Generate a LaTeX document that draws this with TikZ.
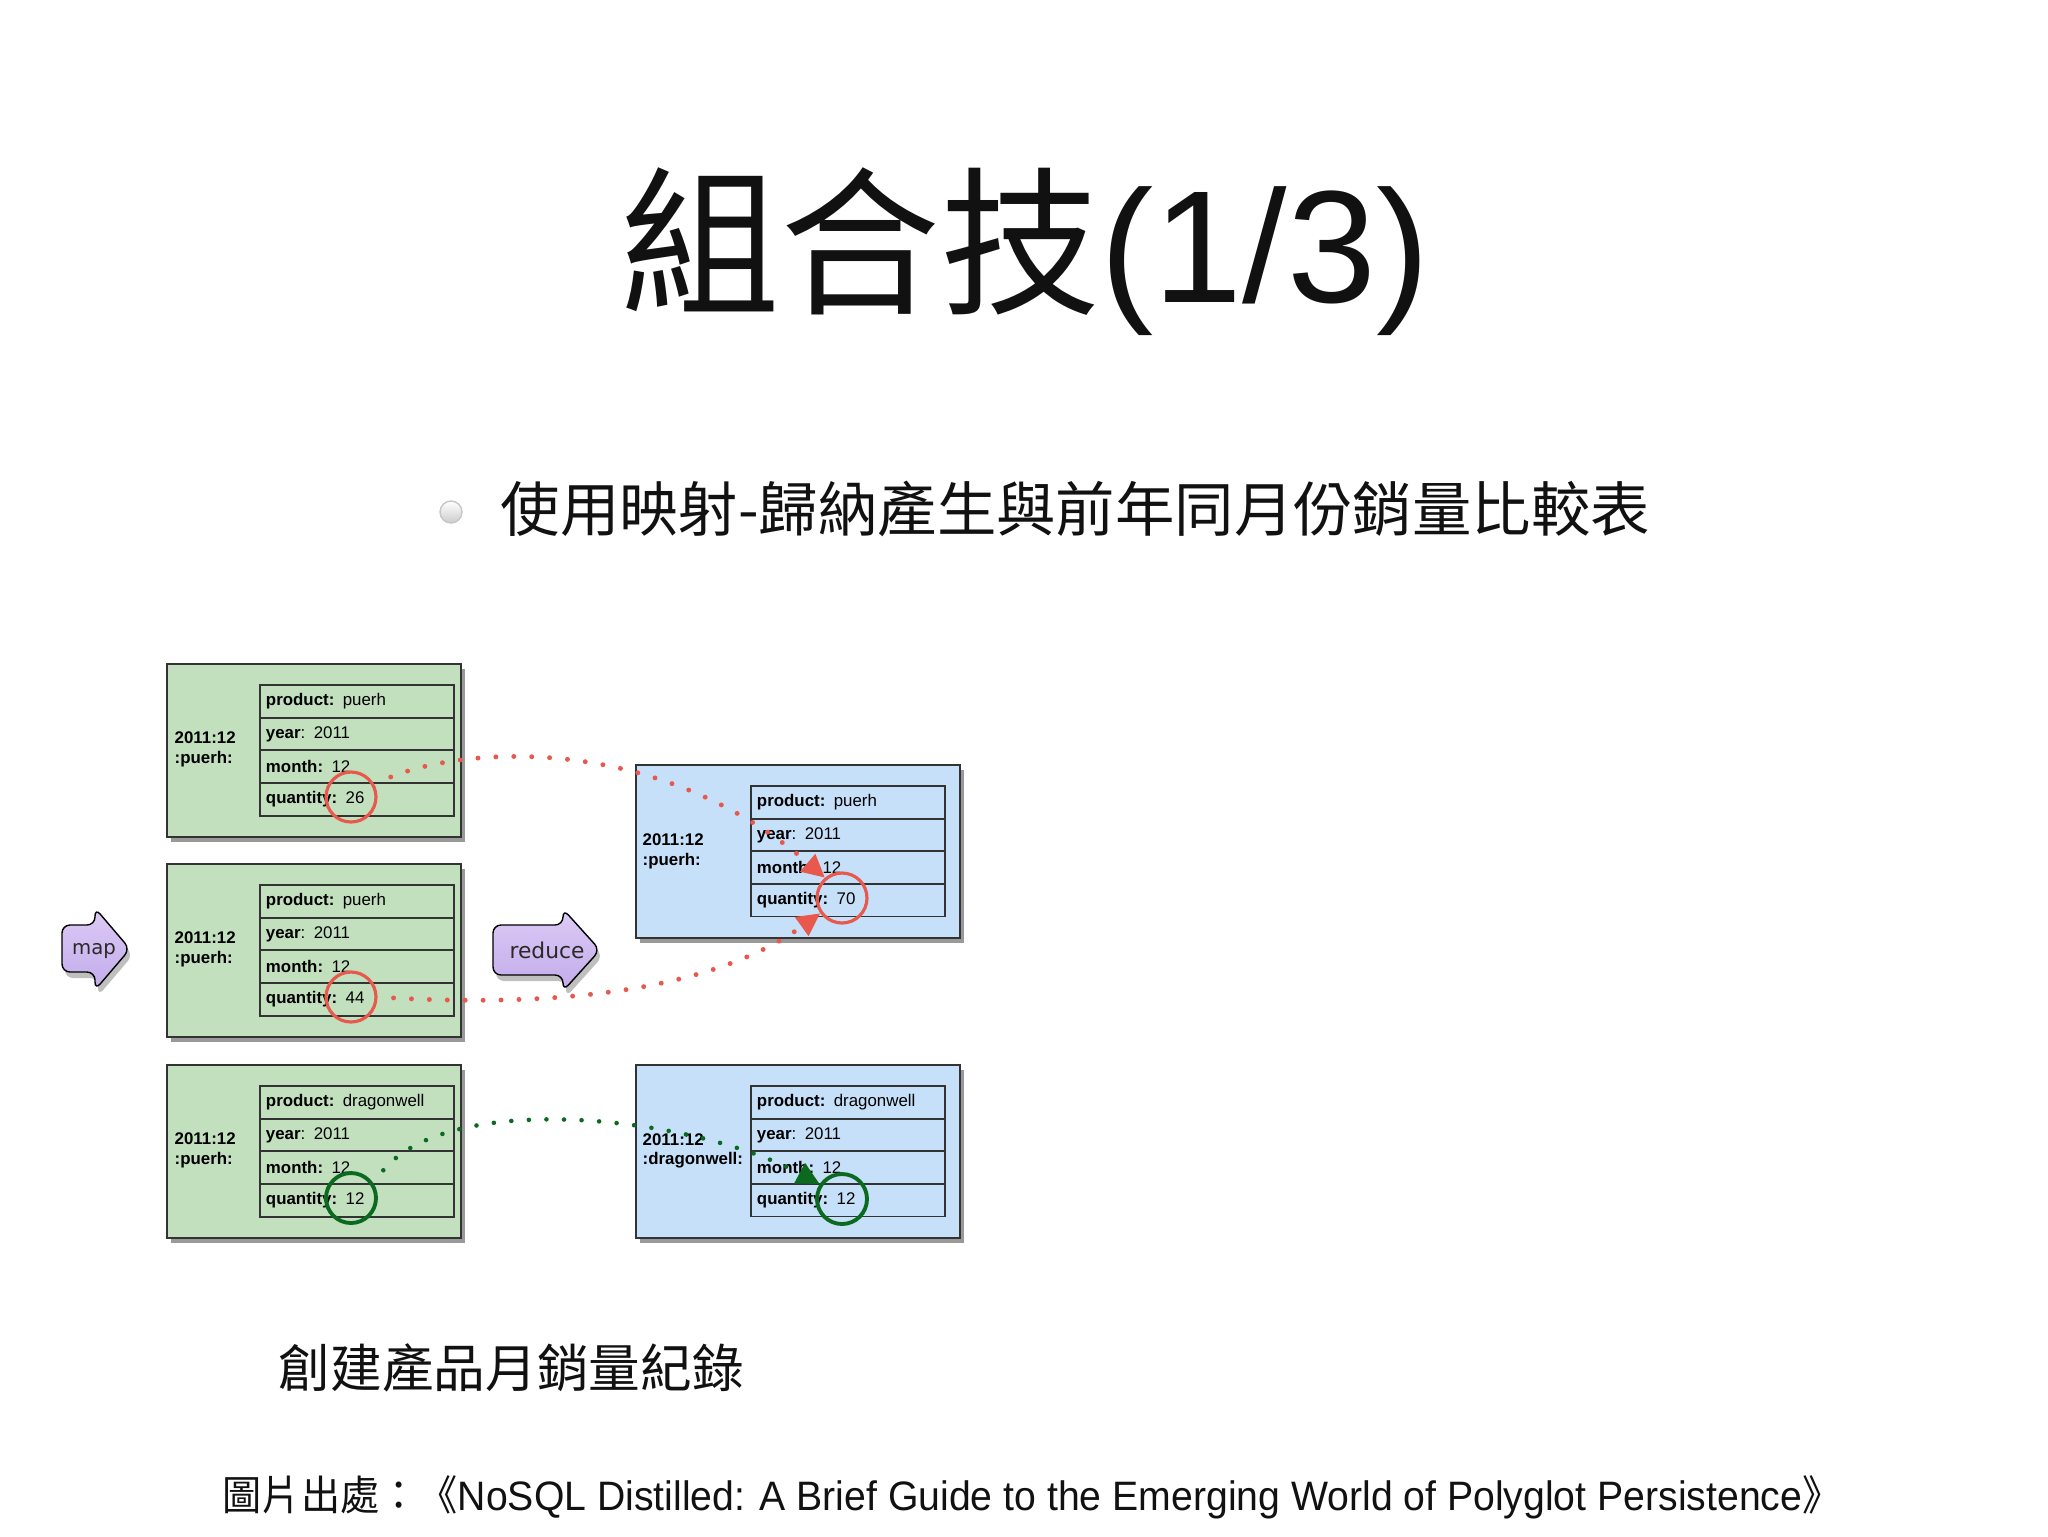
\documentclass[tikz,border=0pt]{standalone}
\usepackage{fontspec}
\setmainfont{Liberation Sans}
\newfontfamily\cjk{Noto Sans CJK TC}
\newfontfamily\arrowfont{DejaVu Sans}
\usetikzlibrary{arrows.meta,shadows}
\definecolor{mapgreen}{HTML}{C2E0BE}
\definecolor{redblue}{HTML}{C5E0F8}
\definecolor{boxline}{HTML}{333333}
\definecolor{hitred}{HTML}{E8584D}
\definecolor{hitgreen}{HTML}{0B6A1F}
\definecolor{lavtop}{HTML}{DCCBF6}
\definecolor{lavbot}{HTML}{C3ABEA}
\definecolor{ink}{HTML}{111111}

\begin{document}
\begin{tikzpicture}[x=.1mm,y=-.1mm,font=\fontsize{4.8}{5.6}\selectfont,
    rec/.style={draw=boxline,line width=.6pt,minimum height=17.3mm,anchor=north west,inner sep=0,
      drop shadow={shadow xshift=.4mm,shadow yshift=-.5mm,fill=black,opacity=.4}},
    row/.style={draw=boxline,line width=.55pt,minimum height=3.27mm,text width=18.2mm,inner xsep=.6mm,
      inner ysep=0,anchor=north west,align=left},
    keylab/.style={anchor=west,align=left,inner sep=0,font=\fontsize{4.8}{5.6}\selectfont\bfseries},
    hit/.style={circle,minimum size=5mm,inner sep=0,line width=.9pt},
    reddots/.style={hitred,line width=1.4pt,line cap=round,dash pattern=on 0pt off 5.1pt,
      -{Triangle[length=6.5pt,width=6.3pt]}},
    greendots/.style={hitgreen,line width=1.3pt,line cap=round,dash pattern=on 0pt off 5pt,
      -{Triangle[length=6.5pt,width=6.3pt]}},
    mrarrow/.style={rounded corners=.8mm,top color=lavtop,bottom color=lavbot,
      drop shadow={shadow xshift=.3mm,shadow yshift=-.6mm,fill=black,opacity=.25}},
    cjktext/.style={inner sep=0,text=ink}]
  \path[use as bounding box,fill=white] (0,0) rectangle (2048,1536);

  \node[cjktext,anchor=base,font=\cjk\fontsize{45.5}{50}\selectfont] (title) at (1025,302)
    {組合技{\rmfamily(1/3)}};
  \node[circle,inner sep=0,minimum size=2.2mm,draw=gray!45,top color=white,bottom color=gray!40] (bullet) at (451,512) {};
  \node[cjktext,anchor=base west,font=\cjk\fontsize{16.9}{20}\selectfont] (sub) at (500,531)
    {使用映射-歸納產生與前年同月份銷量比較表};

  \foreach \n/\y/\prod/\qty in {g1/663/puerh/26,g2/863/puerh/44,g3/1064/dragonwell/12} {
    \node[rec,fill=mapgreen,minimum width=29.4mm] (\n) at (166,\y) {};
    \node[keylab] (\n-key) at (174,\y+86.5) {2011:12\\:puerh:};
    \node[row,fill=mapgreen] (\n-1) at (259,\y+21) {\textbf{product:} \prod};
    \node[row,fill=mapgreen] (\n-2) at (259,\y+53.7) {\textbf{year}: 2011};
    \node[row,fill=mapgreen] (\n-3) at (259,\y+86.4) {\textbf{month:} 12};
    \node[row,fill=mapgreen] (\n-4) at (259,\y+119.1) {\textbf{quantity:} \qty};
  }
  \foreach \n/\y/\key/\prod/\qty in {b1/764/{2011:12\\:puerh:}/puerh/70,b2/1064/{2011:12\\:dragonwell:}/dragonwell/12} {
    \node[rec,fill=redblue,minimum width=32.4mm] (\n) at (635,\y) {};
    \node[keylab] (\n-key) at (642,\y+87) {\key};
    \node[row,fill=redblue] (\n-1) at (750,\y+21) {\textbf{product:} \prod};
    \node[row,fill=redblue] (\n-2) at (750,\y+53.6) {\textbf{year}: 2011};
    \node[row,fill=redblue] (\n-3) at (750,\y+86.2) {\textbf{month:} 12};
    \node[row,fill=redblue] (\n-4) at (750,\y+118.8) {\textbf{quantity:} \qty};
  }

  \node[hit,draw=hitred] (g1-hit) at (351,797) {};
  \node[hit,draw=hitred] (g2-hit) at (351,997) {};
  \node[hit,draw=hitgreen,line width=1.1pt] (g3-hit) at (351,1198) {};
  \node[hit,draw=hitred] (b1-hit) at (842,898) {};
  \node[hit,draw=hitgreen,line width=1.1pt] (b2-hit) at (842,1199) {};

  \draw[mrarrow] (62,925) -- (95,925) -- (95,908) -- (130,949) -- (95,990) -- (95,972) -- (62,972) -- cycle;
  \node[font=\arrowfont\fontsize{5.6}{6.5}\selectfont,text=ink!90] (map) at (94,951) {map};
  \draw[mrarrow] (493,925) -- (563,925) -- (563,909) -- (600,950) -- (563,991) -- (563,975) -- (493,975) -- cycle;
  \node[font=\arrowfont\fontsize{6.2}{7}\selectfont,text=ink!90] (reduce) at (547,950) {reduce};

  \draw[reddots,shorten <=1.8mm] (g1-hit.30) .. controls (470,745) and (660,735) .. (b1-hit.130);
  \draw[reddots,shorten <=1.6mm] (g2-hit.0) .. controls (520,1005) and (700,1000) .. (b1-hit.215);
  \draw[greendots,shorten <=1.6mm] (g3-hit.35) .. controls (450,1090) and (690,1115) .. (b2-hit.146);

  \node[cjktext,anchor=base west,font=\cjk\fontsize{14.7}{17}\selectfont] (caption) at (278,1387) {創建產品月銷量紀錄};
  \node[cjktext,anchor=base west,font=\fontsize{11.7}{14}\selectfont] (source) at (222,1510)
    {\scalebox{.953}[1]{{\cjk 圖片出處：《}NoSQL Distilled: A Brief Guide to the Emerging World of Polyglot Persistence{\cjk 》}}};
\end{tikzpicture}
\end{document}
